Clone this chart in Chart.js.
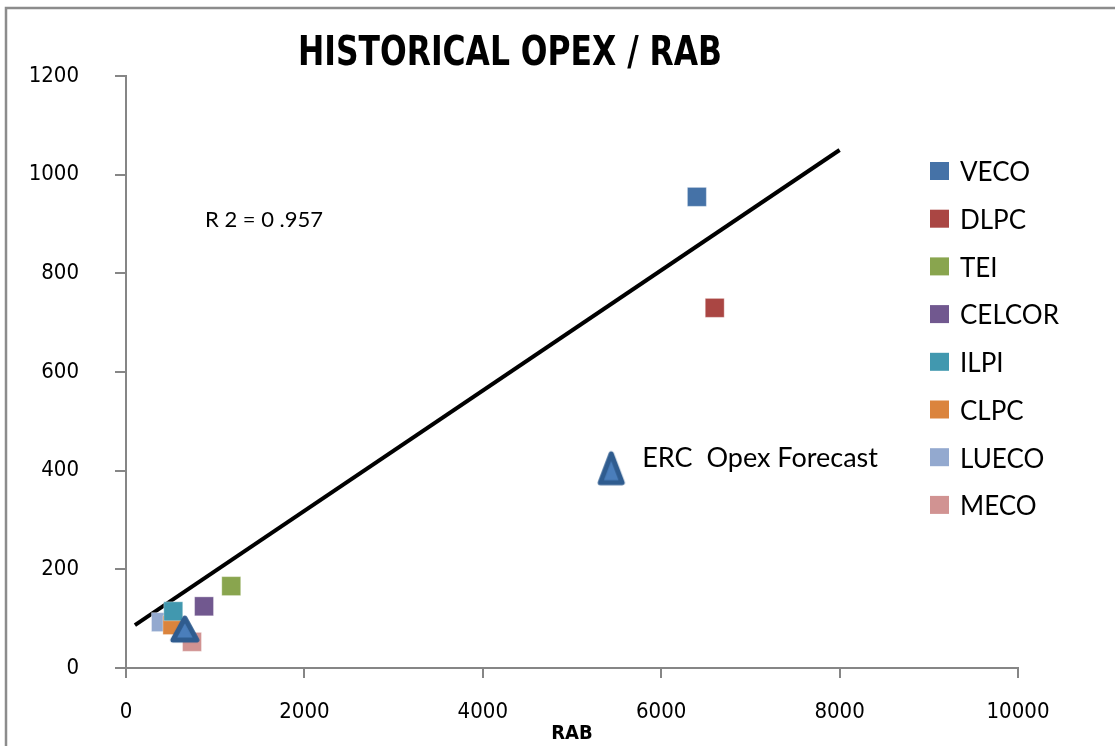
<!DOCTYPE html>
<html>
<head>
<meta charset="utf-8">
<title>Historical Opex / RAB</title>
<script src="https://cdn.jsdelivr.net/npm/chart.js@4.4.1/dist/chart.umd.min.js"></script>
<style>
  html, body { margin: 0; padding: 0; background: #ffffff; }
  #wrap { width: 1115px; height: 746px; }
</style>
</head>
<body>
<div id="wrap"><canvas id="chart" width="1115" height="746"></canvas></div>
<script>
// Distribution utilities: RAB (x) against historical opex (y)
const utilities = ['VECO', 'DLPC', 'TEI', 'CELCOR', 'ILPI', 'CLPC', 'LUECO', 'MECO'];
const rabValues  = [6400, 6600, 1180, 875, 530, 520, 392, 740];
const opexValues = [955, 730, 166, 125, 115, 87, 93, 53];
const utilityColors = ['#4572A7', '#AA4643', '#89A54E', '#71588F', '#4198AF', '#DB843D', '#93A9CF', '#D19392'];

// ERC forecast points (cluster point and the labelled forecast)
const forecastRab  = [660, 5440];
const forecastOpex = [79, 405];
const forecastLabel = 'ERC  Opex Forecast';

// Fitted trend line end points
const trendRab  = [100, 8000];
const trendOpex = [87, 1050];
const trendNote = 'R 2 = 0 .957';

// Axis ticks
const xTicks = [0, 2000, 4000, 6000, 8000, 10000];
const yTicks = [0, 200, 400, 600, 800, 1000, 1200];

const chartTitle = 'HISTORICAL OPEX / RAB';
const xAxisTitle = 'RAB';

const TICK_FONT = '"Liberation Sans Narrow", "DejaVu Sans Condensed", "Liberation Sans", sans-serif';
const LABEL_FONT = 'Lato, "Open Sans", sans-serif';

// Triangle marker sprites
function triangleSprite(w, h) {
  const pad = 4;
  const c = document.createElement('canvas');
  c.width = w + pad * 2;
  c.height = h + pad * 2;
  const g = c.getContext('2d');
  g.beginPath();
  g.moveTo(pad + w / 2, pad);
  g.lineTo(pad + w, pad + h);
  g.lineTo(pad, pad + h);
  g.closePath();
  g.lineJoin = 'round';
  g.fillStyle = '#4A7EBB';
  g.fill();
  g.lineWidth = 5;
  g.strokeStyle = '#2F5C8F';
  g.stroke();
  return c;
}
const smallTriangle = triangleSprite(24, 22);
const bigTriangle = triangleSprite(22, 29);

const datasets = utilities.map((name, i) => ({
  label: name,
  data: [{ x: rabValues[i], y: opexValues[i] }],
  pointStyle: 'rect',
  pointRadius: 13.4,
  pointHoverRadius: 13.4,
  backgroundColor: utilityColors[i],
  borderColor: 'rgba(255,255,255,0.35)',
  borderWidth: 1,
  showLine: false,
  inLegend: true
}));

datasets.unshift({
  label: 'Trend',
  type: 'line',
  data: trendRab.map((x, i) => ({ x: x, y: trendOpex[i] })),
  borderColor: '#000000',
  borderWidth: 4,
  pointRadius: 0,
  fill: false,
  order: 20
});

datasets.push({
  label: forecastLabel,
  data: forecastRab.map((x, i) => ({ x: x, y: forecastOpex[i] })),
  pointStyle: [smallTriangle, bigTriangle],
  pointRadius: 15,
  showLine: false,
  order: -1
});

// Frame around the whole chart
const framePlugin = {
  id: 'frame',
  beforeDraw(chart) {
    const ctx = chart.ctx;
    ctx.save();
    ctx.fillStyle = '#ffffff';
    ctx.fillRect(0, 0, chart.width, chart.height);
    ctx.strokeStyle = '#8C8C8C';
    ctx.lineWidth = 2.5;
    ctx.strokeRect(6, 8, chart.width + 40, chart.height + 40);
    ctx.restore();
  }
};

// Title, legend, trend note and forecast label
const annotatePlugin = {
  id: 'annotate',
  afterDraw(chart) {
    const ctx = chart.ctx;
    const area = chart.chartArea;
    ctx.save();

    // Title, condensed to its column width
    ctx.font = 'bold 40px ' + TICK_FONT;
    ctx.fillStyle = '#000000';
    ctx.textAlign = 'center';
    ctx.textBaseline = 'alphabetic';
    const tw = ctx.measureText(chartTitle).width;
    const sx = Math.min(1, 424 / tw);
    ctx.save();
    ctx.translate(510, 65);
    ctx.scale(sx, 1);
    ctx.fillText(chartTitle, 0, 0);
    ctx.restore();

    // Legend
    ctx.textAlign = 'left';
    ctx.textBaseline = 'middle';
    ctx.font = '26px ' + LABEL_FONT;
    let row = 0;
    chart.data.datasets.forEach(ds => {
      if (!ds.inLegend) return;
      const y = 171 + row * 47.7;
      ctx.fillStyle = ds.backgroundColor;
      ctx.fillRect(930, y - 9, 19, 18);
      ctx.fillStyle = '#000000';
      ctx.fillText(ds.label, 960, y + 2);
      row++;
    });

    // Trend note
    ctx.font = '22px ' + LABEL_FONT;
    ctx.fillText(trendNote, area.left + 79, area.top + 144);

    // Forecast label beside the labelled point
    const fIdx = chart.data.datasets.length - 1;
    const meta = chart.getDatasetMeta(fIdx);
    const pt = meta.data[1];
    if (pt) {
      ctx.font = '27px ' + LABEL_FONT;
      ctx.fillText(forecastLabel, pt.x + 31, pt.y - 10);
    }
    ctx.restore();
  }
};

const axisGray = '#868686';

new Chart(document.getElementById('chart'), {
  type: 'scatter',
  data: { datasets: datasets },
  options: {
    responsive: false,
    animation: false,
    devicePixelRatio: 1,
    layout: { padding: { left: 0, top: 76, right: 97, bottom: 0 } },
    plugins: {
      legend: { display: false },
      title: { display: false },
      tooltip: { enabled: false }
    },
    scales: {
      x: {
        type: 'linear',
        min: xTicks[0],
        max: xTicks[xTicks.length - 1],
        afterBuildTicks(scale) { scale.ticks = xTicks.map(v => ({ value: v })); },
        afterFit(scale) { scale.height = 78; },
        grid: { drawOnChartArea: false, drawTicks: true, tickLength: 10, color: axisGray, lineWidth: 2 },
        border: { display: true, color: axisGray, width: 2 },
        ticks: {
          color: '#000000', padding: 21, maxRotation: 0,
          font: { family: TICK_FONT, size: 22 },
          callback: v => String(v)
        },
        title: {
          display: true,
          text: xAxisTitle,
          color: '#000000',
          font: { family: TICK_FONT, size: 20, weight: 'bold' },
          padding: { top: 0, bottom: 0 }
        }
      },
      y: {
        type: 'linear',
        min: yTicks[0],
        max: yTicks[yTicks.length - 1],
        afterBuildTicks(scale) { scale.ticks = yTicks.map(v => ({ value: v })); },
        afterFit(scale) { scale.width = 126; },
        grid: { drawOnChartArea: false, drawTicks: true, tickLength: 11, color: axisGray, lineWidth: 2 },
        border: { display: true, color: axisGray, width: 2 },
        ticks: {
          color: '#000000', padding: 36,
          font: { family: TICK_FONT, size: 22 },
          callback: v => String(v)
        }
      }
    }
  },
  plugins: [framePlugin, annotatePlugin]
});
</script>
</body>
</html>
